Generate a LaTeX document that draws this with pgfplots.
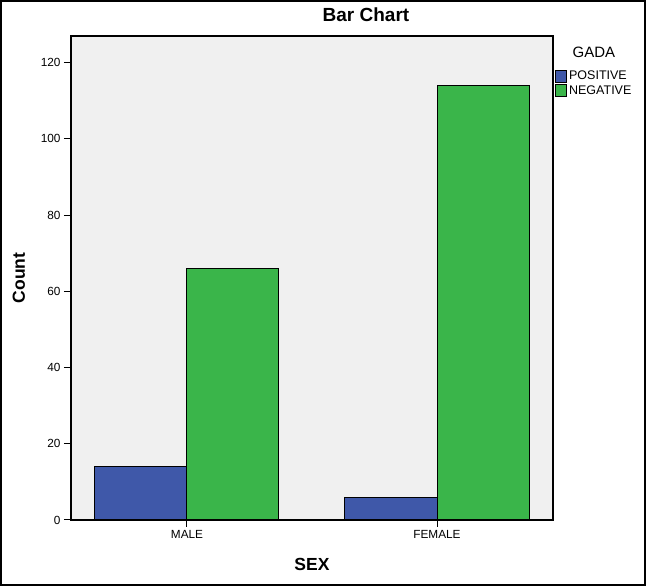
\documentclass[border=0pt]{standalone}
\usepackage{pgfplots}
\pgfplotsset{compat=1.18}
\usepackage{fontspec}
\setmainfont{Liberation Sans}
\definecolor{posc}{HTML}{3F58A9}
\definecolor{negc}{HTML}{3AB54A}
\definecolor{bgc}{HTML}{F0F0F0}
\begin{document}
\begin{tikzpicture}[x=1pt,y=1pt]
\begin{axis}[
  at={(0,0)}, anchor=south west,
  scale only axis, width=482pt, height=484pt,
  xmin=-0.464, xmax=1.464, ymin=0, ymax=127,
  ybar=0pt, bar width=92pt,
  axis background/.style={fill=bgc},
  axis line style={line width=1.2pt, black},
  xtick={0,1}, xticklabels={MALE,FEMALE},
  ytick={0,20,40,60,80,100,120},
  xtick pos=bottom, ytick pos=left,
  tick align=outside, major tick length=7pt,
  tick style={line width=1pt, black},
  /pgf/number format/assume math mode=true,
  tick label style={font=\fontsize{11.8}{13}\selectfont},
  title={Bar Chart},
  title style={font=\bfseries\fontsize{19}{21}\selectfont, at={(axis description cs:0.612,1.031)}, anchor=center},
  xlabel={SEX}, ylabel={Count},
  xlabel style={font=\bfseries\fontsize{17.5}{20}\selectfont, at={(axis description cs:0.5,-0.091)}, anchor=center},
  ylabel style={font=\bfseries\fontsize{17.5}{20}\selectfont, at={(axis description cs:-0.108,0.5)}, anchor=center, rotate=0},
  clip=false,
  legend style={at={(axis description cs:1.004,0.932)}, anchor=north west, draw=none, fill=none,
    font=\fontsize{12.5}{13}\selectfont, inner sep=0pt, row sep=0pt,
    /tikz/every even column/.append style={column sep=0pt}},
  legend cell align=left,
  legend image code/.code={\draw[#1, line width=1pt] (0pt,-6pt) rectangle (11pt,6pt);},
]
\addplot[fill=posc, draw=black, line width=1pt] coordinates {(0,14) (1,6)};
\addlegendentry{POSITIVE}
\addplot[fill=negc, draw=black, line width=1pt] coordinates {(0,66) (1,114)};
\addlegendentry{NEGATIVE}
\node[font=\fontsize{15}{17}\selectfont, anchor=center] at (axis description cs:1.085,0.967) {GADA};
\end{axis}
\draw[line width=2pt] (-70pt,-65pt) rectangle (574pt,519pt);
\end{tikzpicture}
\end{document}
